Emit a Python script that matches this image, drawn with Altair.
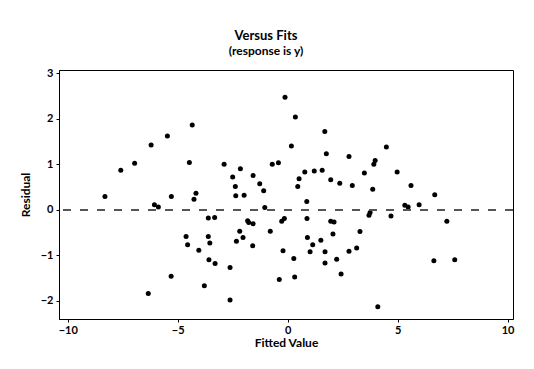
import altair as alt
import pandas as pd

fitted = [-8.31, -7.59, -6.96, -6.21, -5.47, -5.29, -6.06, -5.88, -6.34, -5.30,
          -4.34, -4.47, -4.17, -4.26, -2.89, -2.50, -2.15, -2.38, -2.36, -1.98,
          -1.57, -1.27, -1.09, -1.04, -0.70, -0.42, -0.12, 0.35, 0.17, 0.78,
          0.52, 0.46, 0.87, 1.21, 1.57, 1.69, 1.76, 1.96, 2.37, 2.79,
          -3.61, -3.32, -1.82, -1.77, -1.57, -2.18, -2.03, -2.33, -1.59, -0.79,
          -0.27, -0.15, 0.88, 1.96, 2.11, 2.06, 0.90, 1.14, 1.51, 1.02,
          1.70, 1.70, 2.23, 2.43, 2.79, -0.21, 0.28, 0.32, -0.38, -4.62,
          -4.55, -4.04, -3.61, -3.54, -3.58, -3.30, -2.62, -3.79, -2.62, 2.94,
          3.49, 3.87, 3.92, 3.98, 4.49, 4.98, 5.61, 5.33, 5.48, 5.98,
          6.69, 3.70, 3.75, 4.70, 7.24, 3.29, 3.14, 4.10, 6.65, 7.60]
residual = [0.29, 0.87, 1.02, 1.42, 1.62, 0.29, 0.11, 0.06, -1.84, -1.46,
            1.86, 1.04, 0.36, 0.23, 1.00, 0.72, 0.90, 0.51, 0.31, 0.32,
            0.75, 0.57, 0.42, 0.05, 1.00, 1.03, 2.47, 2.04, 1.40, 0.83,
            0.68, 0.51, 0.18, 0.85, 0.87, 1.72, 1.23, 0.66, 0.58, 1.17,
            -0.18, -0.17, -0.24, -0.28, -0.31, -0.47, -0.61, -0.69, -0.79, -0.47,
            -0.25, -0.19, -0.19, -0.25, -0.27, -0.53, -0.61, -0.77, -0.67, -0.92,
            -0.92, -1.17, -1.09, -1.41, -0.91, -0.90, -1.07, -1.48, -1.53, -0.59,
            -0.77, -0.89, -0.59, -0.73, -1.10, -1.18, -1.27, -1.67, -1.98, 0.53,
            0.81, 0.45, 1.00, 1.08, 1.38, 0.83, 0.53, 0.10, 0.06, 0.11,
            0.33, -0.12, -0.06, -0.14, -0.25, -0.48, -0.84, -2.13, -1.12, -1.10]
x_ticks = [-10, -5, 0, 5, 10]
y_ticks = [-2, -1, 0, 1, 2, 3]

df = pd.DataFrame({"fit": fitted, "res": residual})
FONT = "Lato"

xscale = alt.Scale(domain=[-10.4, 10.25], nice=False, zero=False)
yscale = alt.Scale(domain=[-2.4, 3.07], nice=False, zero=False)

points = alt.Chart(df).mark_circle(size=25, color="black", opacity=1).encode(
    x=alt.X("fit:Q", scale=xscale,
            axis=alt.Axis(title="Fitted Value", values=x_ticks, grid=False,
                          tickSize=3, labelPadding=2, titlePadding=2,
                          labelFont=FONT, titleFont=FONT, labelFontSize=11,
                          titleFontSize=12, labelFontWeight="bold",
                          labelColor="black", titleColor="black",
                          domainColor="black", tickColor="black")),
    y=alt.Y("res:Q", scale=yscale,
            axis=alt.Axis(title="Residual", values=y_ticks, grid=False,
                          tickSize=3, labelPadding=3, titlePadding=8,
                          labelFont=FONT, titleFont=FONT, labelFontSize=11,
                          titleFontSize=12, labelFontWeight="bold",
                          labelColor="black", titleColor="black",
                          domainColor="black", tickColor="black")),
)

ref = alt.Chart(df).mark_rule(color="#555555", strokeWidth=0.8, strokeDash=[8, 9]).encode(
    y=alt.datum(0)
)

chart = (points + ref).properties(
    width=454,
    height=249,
    padding={"left": 51, "top": 62, "right": 13, "bottom": 40},
    autosize=alt.AutoSizeParams(type="none"),
    title=alt.TitleParams(
        text="Versus Fits",
        subtitle="(response is y)",
        font=FONT, fontSize=13, fontWeight="bold", color="black",
        subtitleFont=FONT, subtitleFontSize=12, subtitleFontWeight="bold",
        subtitleColor="black", subtitlePadding=3,
        anchor="middle", offset=10, dx=-20,
    ),
).configure_view(stroke="black", strokeWidth=1)

chart.save("out.html", embed_options={"renderer": "svg", "actions": False})
